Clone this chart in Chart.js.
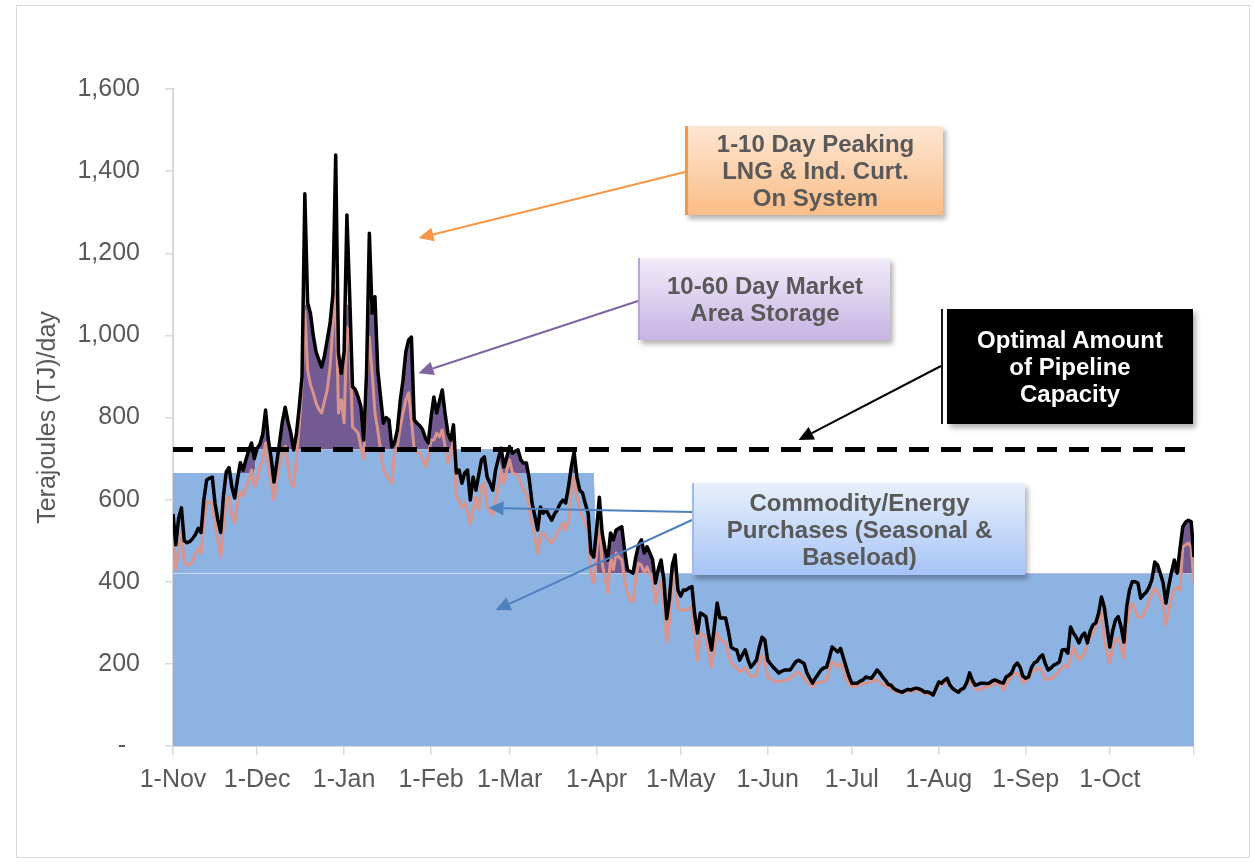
<!DOCTYPE html>
<html>
<head>
<meta charset="utf-8">
<script src="https://cdn.jsdelivr.net/npm/chart.js@4.4.1/dist/chart.umd.min.js"></script>
<style>
  body { margin: 0; background: #ffffff; }
  #wrap { position: relative; width: 1254px; height: 863px; overflow: hidden; font-family: "Liberation Sans", Arial, sans-serif; }
  #frame { position: absolute; left: 16px; top: 5px; width: 1234px; height: 853px; border: 1px solid #d9d9d9; box-sizing: border-box; }
  canvas { position: absolute; left: 0; top: 0; }
  .callout { position: absolute; box-sizing: border-box; display: flex; align-items: center; justify-content: center;
             text-align: center; font-weight: bold; font-size: 24px; line-height: 27px; color: #595959; }
  .peak { background: linear-gradient(to bottom, #fde6d3, #fbbd86); border-left: 3px solid #f79646; box-shadow: 3px 4px 5px rgba(0,0,0,0.3); }
  .storage { background: linear-gradient(to bottom, #f1ecf8, #c7b3e4); border-left: 2px solid #b9a3d8; box-shadow: 3px 4px 5px rgba(0,0,0,0.3); }
  .capacity { background: #000000; color: #ffffff; box-shadow: 3px 4px 5px rgba(0,0,0,0.3); }
  .capacity::before { content: ""; position: absolute; left: -6px; top: 0; bottom: 0; width: 2px; background: #1a1a1a; }
  .commodity { background: linear-gradient(to bottom, #e9f0fc, #a6c4f6); border-left: 2px solid #9fbbe6; box-shadow: 3px 4px 5px rgba(0,0,0,0.3); }
</style>
</head>
<body>
<div id="wrap">
  <div id="frame"></div>
  <canvas id="chart" width="1254" height="863"></canvas>
</div>
<script>
// Daily gas demand, 1-Nov to 31-Oct (365 days), TJ/day
const monthStarts = [0, 30, 61, 92, 120, 151, 181, 212, 242, 273, 304, 334, 364];
const monthLabels = ['1-Nov', '1-Dec', '1-Jan', '1-Feb', '1-Mar', '1-Apr', '1-May', '1-Jun', '1-Jul', '1-Aug', '1-Sep', '1-Oct', ''];

// Design-weather demand (black line)
const designDemand = [
  565,490,555,580,500,495,498,505,515,530,520,600,648,652,655,590,550,520,610,668,678,630,604,650,690,672,697,720,738,700,
  725,735,760,818,745,700,643,690,740,790,825,790,762,721,760,825,900,
  1345,1079,1054,1000,960,940,923,950,990,1030,1100,1439,957,908,
  960,1293,1095,875,868,850,826,745,908,1249,1054,1094,915,850,786,
  800,794,728,740,770,840,891,960,989,996,794,786,780,770,750,738,
  800,850,811,840,867,810,762,745,782,665,672,640,665,672,
  599,655,623,660,697,704,655,640,623,672,700,725,680,704,729,
  713,718,721,697,689,689,650,592,560,526,582,567,575,562,550,
  565,575,590,599,592,631,680,716,655,623,616,590,567,470,460,
  526,606,519,480,453,519,502,526,530,534,477,429,425,421,460,
  490,502,470,485,470,453,397,430,453,404,310,360,440,465,380,365,
  380,380,385,388,320,275,324,320,315,270,234,290,348,312,312,312,280,241,
  236,234,209,222,234,210,192,200,209,240,265,258,209,200,192,185,178,182,185,185,
  185,195,205,209,205,201,178,165,153,165,175,185,190,192,215,241,235,229,238,215,
  192,170,153,153,153,158,161,168,166,165,175,185,178,168,160,150,148,140,136,133,
  131,135,138,136,139,141,139,136,131,132,129,124,140,156,153,160,165,148,140,135,
  131,138,141,155,178,160,148,150,153,153,152,153,158,161,158,155,153,168,172,178,
  195,202,192,170,165,168,190,202,206,216,222,200,185,190,197,200,205,234,235,226,
  290,275,265,251,268,275,251,280,295,300,324,363,339,290,241,280,307,315,290,253,
  339,380,400,400,397,360,368,375,387,405,448,441,420,397,348,390,424,453,421,480,534,545,550,546,460
];

// Normal-weather demand (rose line)
const normalDemand = [
  505,430,480,520,450,440,442,450,470,480,470,545,592,595,590,540,500,460,540,600,606,560,543,590,619,610,630,648,672,631,
  650,680,700,738,680,640,599,650,690,713,730,680,640,631,700,780,880,
  1060,915,880,860,835,820,811,840,867,923,1020,1110,811,843,
  787,1020,989,777,770,762,728,700,891,996,908,811,770,721,672,
  658,650,640,713,729,777,811,843,860,794,721,715,713,697,680,704,
  745,745,762,753,770,728,689,713,745,606,599,580,592,570,
  538,575,606,575,631,640,582,570,563,600,631,672,640,672,697,
  665,662,660,640,623,616,580,540,510,470,514,519,509,500,494,
  505,519,530,543,526,550,616,655,606,575,558,540,526,421,397,
  470,550,445,410,373,460,429,470,460,453,404,370,355,351,412,
  445,440,421,436,420,404,348,380,404,339,253,300,400,421,335,331,
  331,331,335,339,260,209,275,270,266,220,192,240,275,260,255,251,225,202,
  195,190,180,185,190,180,168,170,173,200,222,209,168,163,160,156,157,158,160,161,
  165,170,178,180,173,165,156,150,144,150,155,156,158,161,185,205,198,192,202,185,
  165,152,144,145,147,150,151,153,155,157,160,161,155,150,147,144,140,135,131,130,
  129,132,134,132,135,136,134,131,128,127,126,124,138,148,150,153,156,145,137,133,
  131,136,140,150,161,150,140,136,140,142,144,146,149,151,153,150,136,150,161,168,
  178,175,170,153,158,165,178,183,188,190,180,161,163,165,168,175,185,190,197,192,
  215,239,225,209,218,226,251,262,275,290,307,324,258,230,202,240,258,263,240,214,
  290,330,348,330,315,312,320,335,355,370,385,375,360,348,295,330,363,380,387,380,485,490,494,485,397
];

// Supply stack levels, TJ/day
const baseloadTJ = 420;            // year-round commodity purchases
const seasonalBlocks = [           // winter purchase blocks (day index ranges)
  { from: 0, to: 150, level: 665 },
  { from: 30, to: 116, level: 722 }
];
const pipelineCapacity = 722;
const storageCeiling = 1075;       // above this, peaking supply is used

// Build per-day tables for the chart
const days = designDemand.map((_, i) => i);
const supplyTop = days.map(d => {
  let lvl = baseloadTJ;
  seasonalBlocks.forEach(b => { if (d >= b.from && d <= b.to) lvl = Math.max(lvl, b.level); });
  return lvl;
});
const pts = arr => arr.map((v, i) => ({ x: i, y: v }));
const flat = v => days.map(i => ({ x: i, y: v }));
const storageTop = designDemand.map(v => Math.min(v, storageCeiling));

const BLUE = '#8db3e2';
const PURPLE = '#725a92';
const PEACH = '#fcd5b3';
const ROSE = '#d8948d';
const GREY = '#595959';
const FONT = '"Liberation Sans", Arial, sans-serif';

// Callout boxes and their arrows (arrow tips in data coordinates)
const callouts = [
  { text: ['1-10 Day Peaking', 'LNG & Ind. Curt.', 'On System'], cls: 'peak',
    box: { left: 685, top: 126, width: 258, height: 89 }, color: '#f79646',
    arrows: [{ from: [685, 172], day: 87.5, tj: 1237 }] },
  { text: ['10-60 Day Market', 'Area Storage'], cls: 'storage',
    box: { left: 638, top: 258, width: 252, height: 82 }, color: '#8064a2',
    arrows: [{ from: [638, 301], day: 87.5, tj: 908 }] },
  { text: ['Optimal Amount', 'of Pipeline', 'Capacity'], cls: 'capacity',
    box: { left: 947, top: 309, width: 246, height: 115 }, color: '#000000',
    arrows: [{ from: [941, 366], day: 223, tj: 745 }] },
  { text: ['Commodity/Energy', 'Purchases (Seasonal &', 'Baseload)'], cls: 'commodity',
    box: { left: 692, top: 483, width: 333, height: 92 }, color: '#4f81bd',
    arrows: [{ from: [692, 512], day: 112.5, tj: 580 }, { from: [692, 520], day: 115, tj: 331 }] }
];

const wrap = document.getElementById('wrap');
callouts.forEach(c => {
  const el = document.createElement('div');
  el.className = 'callout ' + c.cls;
  Object.assign(el.style, { left: c.box.left + 'px', top: c.box.top + 'px', width: c.box.width + 'px', height: c.box.height + 'px' });
  el.innerHTML = c.text.map(t => t.replace(/&/g, '&amp;')).join('<br>');
  wrap.appendChild(el);
});

const arrowPlugin = {
  id: 'calloutArrows',
  afterDraw(chart) {
    const { ctx, scales: { x, y } } = chart;
    callouts.forEach(c => c.arrows.forEach(a => {
      const [x0, y0] = a.from;
      const x1 = x.getPixelForValue(a.day), y1 = y.getPixelForValue(a.tj);
      const ang = Math.atan2(y1 - y0, x1 - x0);
      const head = 15, half = 7;
      const bx = x1 - head * Math.cos(ang), by = y1 - head * Math.sin(ang);
      ctx.save();
      ctx.strokeStyle = c.color; ctx.fillStyle = c.color; ctx.lineWidth = 2;
      ctx.beginPath(); ctx.moveTo(x0, y0); ctx.lineTo(bx, by); ctx.stroke();
      ctx.beginPath();
      ctx.moveTo(x1, y1);
      ctx.lineTo(bx + half * Math.sin(ang), by - half * Math.cos(ang));
      ctx.lineTo(bx - half * Math.sin(ang), by + half * Math.cos(ang));
      ctx.closePath(); ctx.fill();
      ctx.restore();
    }));
  }
};

new Chart(document.getElementById('chart'), {
  type: 'line',
  data: {
    datasets: [
      { label: 'Baseload', data: flat(baseloadTJ), fill: 'origin', backgroundColor: BLUE, borderWidth: 0, order: 10 },
      { label: 'Seasonal', data: pts(supplyTop), fill: '-1', backgroundColor: BLUE, borderWidth: 0, order: 9 },
      { label: 'Baseload edge', data: flat(baseloadTJ), fill: false, borderColor: 'rgba(255,255,255,0.35)', borderWidth: 1, order: 8.5 },
      { label: 'Market Area Storage', data: pts(storageTop), fill: { target: 1, above: PURPLE, below: 'rgba(0,0,0,0)' }, borderWidth: 0, order: 8 },
      // peaking band: between demand and the storage-capped demand (zero-height where demand is below the ceiling)
      { label: 'Peaking', data: pts(designDemand), fill: '-1', backgroundColor: PEACH, borderWidth: 0, order: 7 },
      { label: 'Normal Demand', data: pts(normalDemand), fill: false, borderColor: ROSE, borderWidth: 3, order: 3 },
      { label: 'Design Demand', data: pts(designDemand), fill: false, borderColor: '#000000', borderWidth: 3.5, order: 2 },
      { label: 'Pipeline Capacity', data: flat(pipelineCapacity), fill: false, borderColor: '#000000', borderWidth: 5, borderDash: [20, 12], order: 1 }
    ]
  },
  options: {
    responsive: false,
    animation: false,
    devicePixelRatio: 1,
    layout: { padding: { top: 89, right: 60, left: 0, bottom: 0 } },
    elements: { point: { radius: 0 }, line: { tension: 0, borderJoinStyle: 'round' } },
    plugins: { legend: { display: false }, tooltip: { enabled: false } },
    scales: {
      x: {
        type: 'linear', min: 0, max: 364,
        afterBuildTicks: s => { s.ticks = monthStarts.map(v => ({ value: v })); },
        afterFit: s => { s.height = 117; },
        ticks: { autoSkip: false, maxRotation: 0, padding: 10, color: GREY, font: { family: FONT, size: 25 },
                 callback: (v, i) => monthLabels[i] },
        grid: { drawOnChartArea: false, color: '#d9d9d9', tickLength: 9, lineWidth: 1.5 },
        border: { color: '#d9d9d9', width: 2 }
      },
      y: {
        min: 0, max: 1600,
        afterFit: s => { s.width = 173; },
        ticks: { stepSize: 200, padding: 25, color: GREY, font: { family: FONT, size: 25 },
                 callback: v => v === 0 ? '-  ' : v.toLocaleString('en-US') },
        grid: { drawOnChartArea: false, color: '#d9d9d9', tickLength: 8, lineWidth: 1.5 },
        border: { color: '#d9d9d9', width: 2 },
        title: { display: true, text: 'Terajoules (TJ)/day', color: GREY, font: { family: FONT, size: 25 }, padding: { top: 33, bottom: 0 } }
      }
    }
  },
  plugins: [arrowPlugin]
});
</script>
</body>
</html>
